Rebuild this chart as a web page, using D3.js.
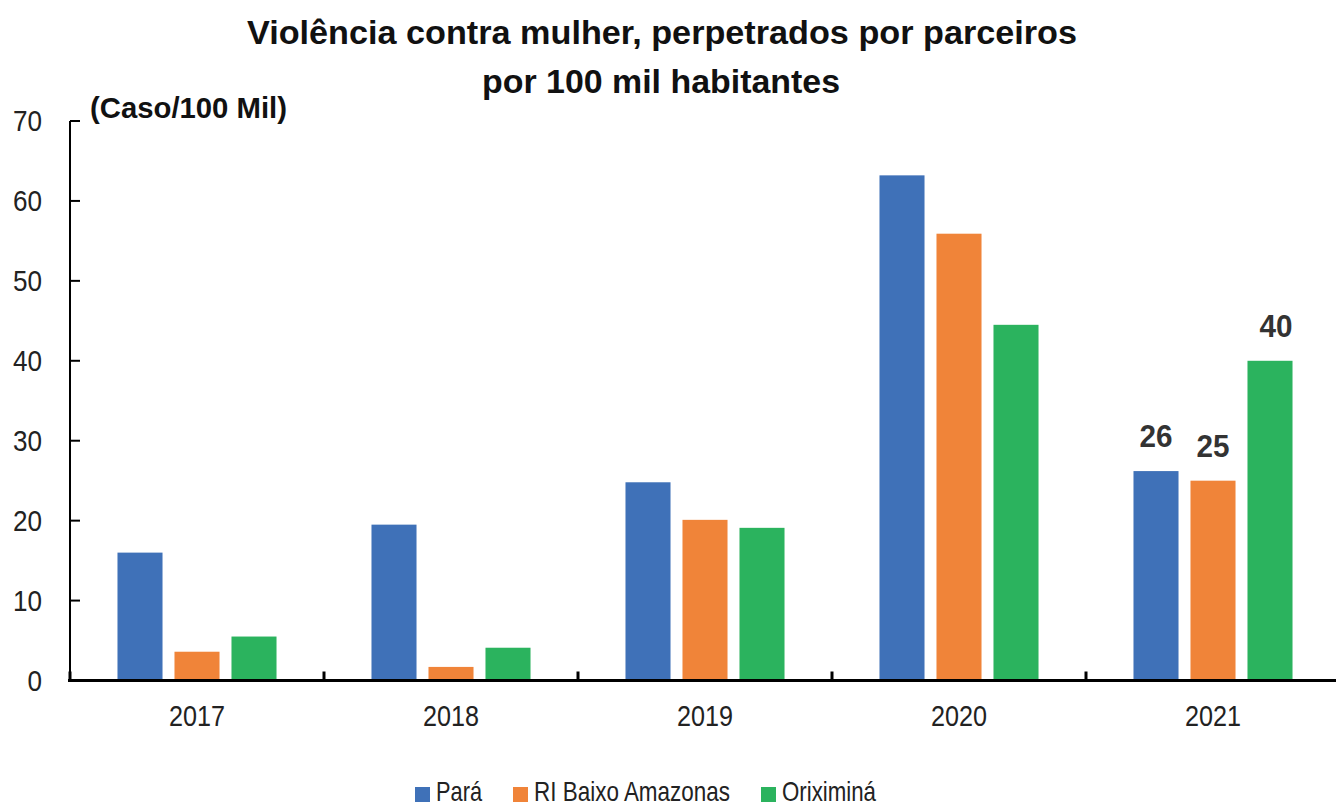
<!DOCTYPE html>
<html>
<head>
<meta charset="utf-8">
<script src="https://cdn.jsdelivr.net/npm/d3@7"></script>
<style>
  html, body { margin: 0; padding: 0; background: #fff; }
  svg { display: block; }
  text { font-family: 'Liberation Sans Narrow', 'Arial Narrow', 'Liberation Sans', Arial, sans-serif; }
</style>
</head>
<body>
<svg id="chart" width="1336" height="808"></svg>
<script>
const years = ["2017", "2018", "2019", "2020", "2021"];
const seriesNames = ["Pará", "RI Baixo Amazonas", "Oriximiná"];
const para = [16.0, 19.5, 24.8, 63.2, 26.2];
const riBaixoAmazonas = [3.6, 1.7, 20.1, 55.9, 25.0];
const oriximina = [5.5, 4.1, 19.1, 44.5, 40.0];
const yTicks = [0, 10, 20, 30, 40, 50, 60, 70];
const titleLines = ["Violência contra mulher, perpetrados por parceiros", "por 100 mil habitantes"];
const unitLabel = "(Caso/100 Mil)";
const labeledYear = "2021";
const labelValues = { "Pará": "26", "RI Baixo Amazonas": "25", "Oriximiná": "40" };

const colors = ["#3F71B8", "#F08439", "#2BB35E"];
const seriesValues = [para, riBaixoAmazonas, oriximina];
const legendWidths = [46, 196, 94];

const svg = d3.select("#chart");

const x0 = d3.scaleBand().domain(years).range([70, 1340]).paddingInner(0).paddingOuter(0);
const x1 = d3.scaleBand().domain(seriesNames).range([0, x0.bandwidth()]).paddingInner(0.21).paddingOuter(0.833);
const y = d3.scaleLinear().domain([0, 70]).range([680.5, 121]);

// Title
svg.append("text").attr("x", 662).attr("y", 44).attr("text-anchor", "middle")
  .attr("font-size", 33).attr("font-weight", "bold").attr("fill", "#111")
  .attr("textLength", 830).attr("lengthAdjust", "spacingAndGlyphs")
  .text(titleLines[0]);
svg.append("text").attr("x", 661).attr("y", 93).attr("text-anchor", "middle")
  .attr("font-size", 33).attr("font-weight", "bold").attr("fill", "#111")
  .attr("textLength", 358).attr("lengthAdjust", "spacingAndGlyphs")
  .text(titleLines[1]);

// Unit label
svg.append("text").attr("x", 90).attr("y", 118)
  .attr("font-size", 30).attr("font-weight", "bold").attr("fill", "#111")
  .attr("textLength", 197).attr("lengthAdjust", "spacingAndGlyphs")
  .text(unitLabel);

// Bars
const groups = svg.append("g").selectAll("g").data(years).join("g")
  .attr("transform", d => `translate(${x0(d)},0)`);
groups.selectAll("rect")
  .data((yr, i) => seriesNames.map((s, j) => ({ year: yr, series: s, value: seriesValues[j][i], color: colors[j] })))
  .join("rect")
  .attr("x", d => x1(d.series))
  .attr("width", x1.bandwidth())
  .attr("y", d => y(d.value))
  .attr("height", d => y(0) - y(d.value))
  .attr("fill", d => d.color);

// Data labels for 2021
const iLab = years.indexOf(labeledYear);
svg.append("g").selectAll("text")
  .data(seriesNames.map((s, j) => ({ series: s, value: seriesValues[j][iLab], label: labelValues[s] })))
  .join("text")
  .attr("x", d => x0(labeledYear) + x1(d.series) + x1.bandwidth() / 2 + (d.series === "Oriximiná" ? 6 : 0))
  .attr("y", d => y(d.value) - 24)
  .attr("text-anchor", "middle")
  .attr("font-size", 32).attr("font-weight", "bold").attr("fill", "#333")
  .attr("textLength", 33).attr("lengthAdjust", "spacingAndGlyphs")
  .text(d => d.label);

// Y axis
const yAxis = d3.axisLeft(y).tickValues(yTicks).tickSize(0).tickPadding(28).tickFormat(d3.format("d"));
const gy = svg.append("g").attr("transform", "translate(70,0)").call(yAxis);
gy.select(".domain").remove();
gy.selectAll("text").attr("font-size", 30).attr("fill", "#222")
  .attr("font-family", "'Liberation Sans Narrow', 'Arial Narrow', 'Liberation Sans', Arial, sans-serif")
  .attr("textLength", d => String(d).length * 14.5).attr("lengthAdjust", "spacingAndGlyphs");
svg.append("line").attr("x1", 70).attr("x2", 70).attr("y1", y(70)).attr("y2", y(0))
  .attr("stroke", "#000").attr("stroke-width", 2);
svg.append("g").selectAll("line").data(yTicks).join("line")
  .attr("x1", 70).attr("x2", 80).attr("y1", d => y(d)).attr("y2", d => y(d))
  .attr("stroke", "#000").attr("stroke-width", 2);

// X axis
const xAxis = d3.axisBottom(x0).tickSize(0).tickPadding(24);
const gx = svg.append("g").attr("transform", `translate(0,${y(0)})`).call(xAxis);
gx.select(".domain").remove();
gx.selectAll("text").attr("font-size", 30).attr("fill", "#222")
  .attr("font-family", "'Liberation Sans Narrow', 'Arial Narrow', 'Liberation Sans', Arial, sans-serif")
  .attr("textLength", 56).attr("lengthAdjust", "spacingAndGlyphs");
svg.append("line").attr("x1", 68).attr("x2", 1336).attr("y1", y(0)).attr("y2", y(0))
  .attr("stroke", "#000").attr("stroke-width", 3);
const boundaries = years.map(d => x0(d)).concat([x0.range()[1]]);
svg.append("g").selectAll("line").data(boundaries).join("line")
  .attr("x1", d => d).attr("x2", d => d).attr("y1", y(0) - 9).attr("y2", y(0) + 1)
  .attr("stroke", "#000").attr("stroke-width", 3);

// Legend
const legend = svg.append("g");
let lx = 415;
seriesNames.forEach((s, j) => {
  legend.append("rect").attr("x", lx).attr("y", 787).attr("width", 15).attr("height", 15).attr("fill", colors[j]);
  legend.append("text").attr("x", lx + 21).attr("y", 801)
    .attr("font-size", 28).attr("fill", "#222")
    .attr("textLength", legendWidths[j]).attr("lengthAdjust", "spacingAndGlyphs")
    .text(s);
  lx = lx + 21 + legendWidths[j] + 31;
});
</script>
</body>
</html>
